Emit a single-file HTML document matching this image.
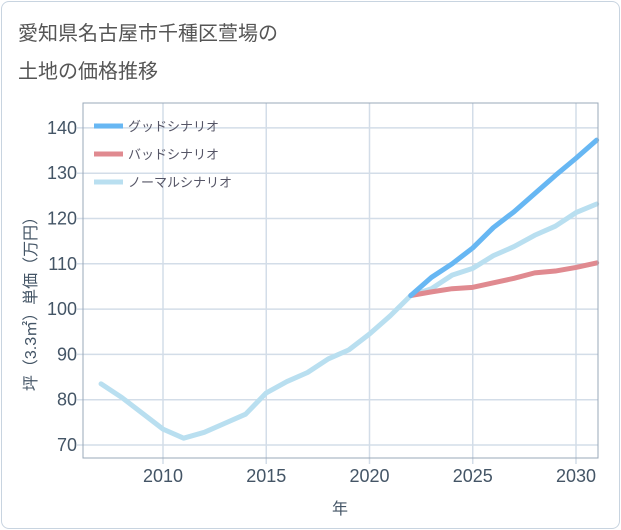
<!DOCTYPE html>
<html><head><meta charset="utf-8"><style>
body{margin:0;background:#fff;font-family:"Liberation Sans","Noto Sans CJK JP",sans-serif;}
#card{position:absolute;left:1px;top:1px;width:617px;height:526px;border:1px solid #c8d4e0;border-radius:8px;background:#fff;}
</style></head><body>
<div id="card"></div>
<svg width="621" height="530" style="position:absolute;left:0;top:0">
<text x="18" y="40" font-size="20" fill="#555">愛知県名古屋市千種区萱場の</text>
<text x="18" y="78" font-size="20" fill="#555">土地の価格推移</text>
<g id="grid"></g><g id="series"></g><g id="axes"></g>
<rect x="83" y="103" width="515" height="355" fill="none" stroke="#9aa8b8" stroke-width="1"/>
<text transform="translate(36,300) rotate(-90)" font-size="16" fill="#445566" text-anchor="middle">坪（3.3㎡）単価（万円）</text>
<text x="340" y="514" font-size="16" fill="#445566" text-anchor="middle">年</text>
<g>
<line x1="94" y1="126" x2="123" y2="126" stroke="#67b7f3" stroke-width="5"/>
<text x="128" y="131" font-size="13" fill="#556">グッドシナリオ</text>
<line x1="94" y1="154" x2="123" y2="154" stroke="#e08a90" stroke-width="5"/>
<text x="128" y="159" font-size="13" fill="#556">バッドシナリオ</text>
<line x1="94" y1="182" x2="123" y2="182" stroke="#b9dff0" stroke-width="5"/>
<text x="128" y="187" font-size="13" fill="#556">ノーマルシナリオ</text>
</g>
</svg>
<script>
const years=[2007,2008,2009,2010,2011,2012,2013,2014,2015,2016,2017,2018,2019,2020,2021,2022,2023,2024,2025,2026,2027,2028,2029,2030,2031];
const normal=[83.5,80.5,77,73.5,71.5,72.8,74.8,76.8,81.5,84,86,89,91,94.5,98.5,103,104.5,107.5,109,111.8,113.8,116.3,118.3,121.3,123.2];
const futureYears=[2022,2023,2024,2025,2026,2027,2028,2029,2030,2031];
const good=[103,107,110,113.5,118,121.5,125.5,129.5,133.3,137.3];
const bad=[103,103.8,104.5,104.8,105.8,106.8,108,108.4,109.2,110.2];
const xTicks=[2010,2015,2020,2025,2030];
const yTicks=[70,80,90,100,110,120,130,140];
const NS='http://www.w3.org/2000/svg';
const xs=y=>163+(y-2010)*20.65;
const ys=v=>445-(v-70)*4.53;
const grid=document.getElementById('grid'),axes=document.getElementById('axes'),ser=document.getElementById('series');
function mk(t,a){const e=document.createElementNS(NS,t);for(const k in a)e.setAttribute(k,a[k]);return e;}
xTicks.forEach(t=>{
 const l=mk('line',{x1:xs(t),x2:xs(t),y1:103,y2:464,stroke:'#d3dde8','stroke-width':1.5});
 
 
 grid.appendChild(l);
 const tx=mk('text',{x:xs(t),y:482,'font-size':18,fill:'#445566','text-anchor':'middle'});
 tx.textContent=t;
 
 
 axes.appendChild(tx);
});
yTicks.forEach(t=>{
 const l=mk('line',{x1:77,x2:598,y1:ys(t),y2:ys(t),stroke:'#d3dde8','stroke-width':1.5});
 
 
 grid.appendChild(l);
 const tx=mk('text',{x:77,y:ys(t)+6,'font-size':18,fill:'#445566','text-anchor':'end'});
 tx.textContent=t;
 
 
 axes.appendChild(tx);
});
function line(xv,yv,col,name){
 const p=mk('polyline',{points:xv.map((x,i)=>xs(x)+','+ys(yv[i])).join(' '),fill:'none',stroke:col,'stroke-width':5,'stroke-linejoin':'round','stroke-linecap':'round'});
 
 
 ser.appendChild(p);
}
line(years,normal,'#b9dff0','normal-scenario-line');
line(futureYears,bad,'#e08a90','bad-scenario-line');
line(futureYears,good,'#67b7f3','good-scenario-line');
</script>
</body></html>
